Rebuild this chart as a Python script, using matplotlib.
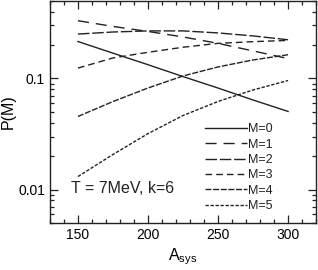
import matplotlib
matplotlib.use("Agg")
import matplotlib.pyplot as plt
from matplotlib.ticker import MultipleLocator, LogLocator, FixedLocator, FixedFormatter, NullFormatter

plt.rcParams['font.family'] = ['Liberation Sans', 'DejaVu Sans']
plt.rcParams['mathtext.fontset'] = 'custom'
plt.rcParams['mathtext.rm'] = 'Liberation Sans'

A = [150, 175, 200, 225, 250, 275, 300]
P_M0 = [0.215, 0.169, 0.133, 0.104, 0.082, 0.064, 0.0505]
P_M1 = [0.331, 0.294, 0.265, 0.2365, 0.207, 0.177, 0.151]
P_M2 = [0.251, 0.262, 0.268, 0.268, 0.257, 0.2415, 0.223]
P_M3 = [0.124, 0.153, 0.172, 0.191, 0.207, 0.2145, 0.220]
P_M4 = [0.0455, 0.062, 0.0821, 0.1053, 0.127, 0.1468, 0.1635]
P_M5 = [0.0131, 0.0207, 0.0319, 0.0464, 0.0621, 0.0788, 0.0959]
labels = ['M=0', 'M=1', 'M=2', 'M=3', 'M=4', 'M=5']
series = [P_M0, P_M1, P_M2, P_M3, P_M4, P_M5]
styles = ['-', (0, (8, 5)), (0, (8.3, 2)), (0, (4.8, 2.9)), (0, (4.3, 1.2)), (0, (2.4, 1.2))]

fig = plt.figure(figsize=(3.18, 2.70), dpi=100)
ax = fig.add_axes([0.157, 0.174, 0.837, 0.823])

for y, lab, ls in zip(series, labels, styles):
    ax.plot(A, y, color='#222222', lw=1.0, linestyle=ls, label=lab)

ax.set_yscale('log')
ax.set_xlim(130, 320)
ax.set_ylim(0.005, 0.5)

ax.xaxis.set_major_locator(MultipleLocator(50))
ax.xaxis.set_minor_locator(MultipleLocator(10))
ax.yaxis.set_major_locator(FixedLocator([0.01, 0.1]))
ax.yaxis.set_major_formatter(FixedFormatter(['0.01', '0.1']))
ax.yaxis.set_minor_locator(LogLocator(base=10, subs=range(2, 10)))
ax.yaxis.set_minor_formatter(NullFormatter())

ax.tick_params(which='both', direction='in', top=True, right=True, labelsize=10, width=0.9, color='#222222')
ax.tick_params(which='major', length=5.5)
ax.tick_params(which='minor', length=2.8)
for s in ax.spines.values():
    s.set_linewidth(1.0)
    s.set_color('#222222')

ax.set_xlabel(r'$\mathregular{A_{sys}}$', fontsize=11.5, labelpad=3)
ax.set_ylabel('P(M)', fontsize=11.5, labelpad=2)

ax.text(0.079, 0.157, 'T = 7MeV, k=6', transform=ax.transAxes, fontsize=11.5, va='center', ha='left', color='#222222')

leg = ax.legend(loc='upper left', bbox_to_anchor=(0.583, 0.449), frameon=False, fontsize=9,
                handlelength=3.36, handletextpad=0.1, labelspacing=0.27, borderpad=0, borderaxespad=0)
for t in leg.get_texts():
    t.set_color('#222222')

fig.savefig('out.png', dpi=100)
